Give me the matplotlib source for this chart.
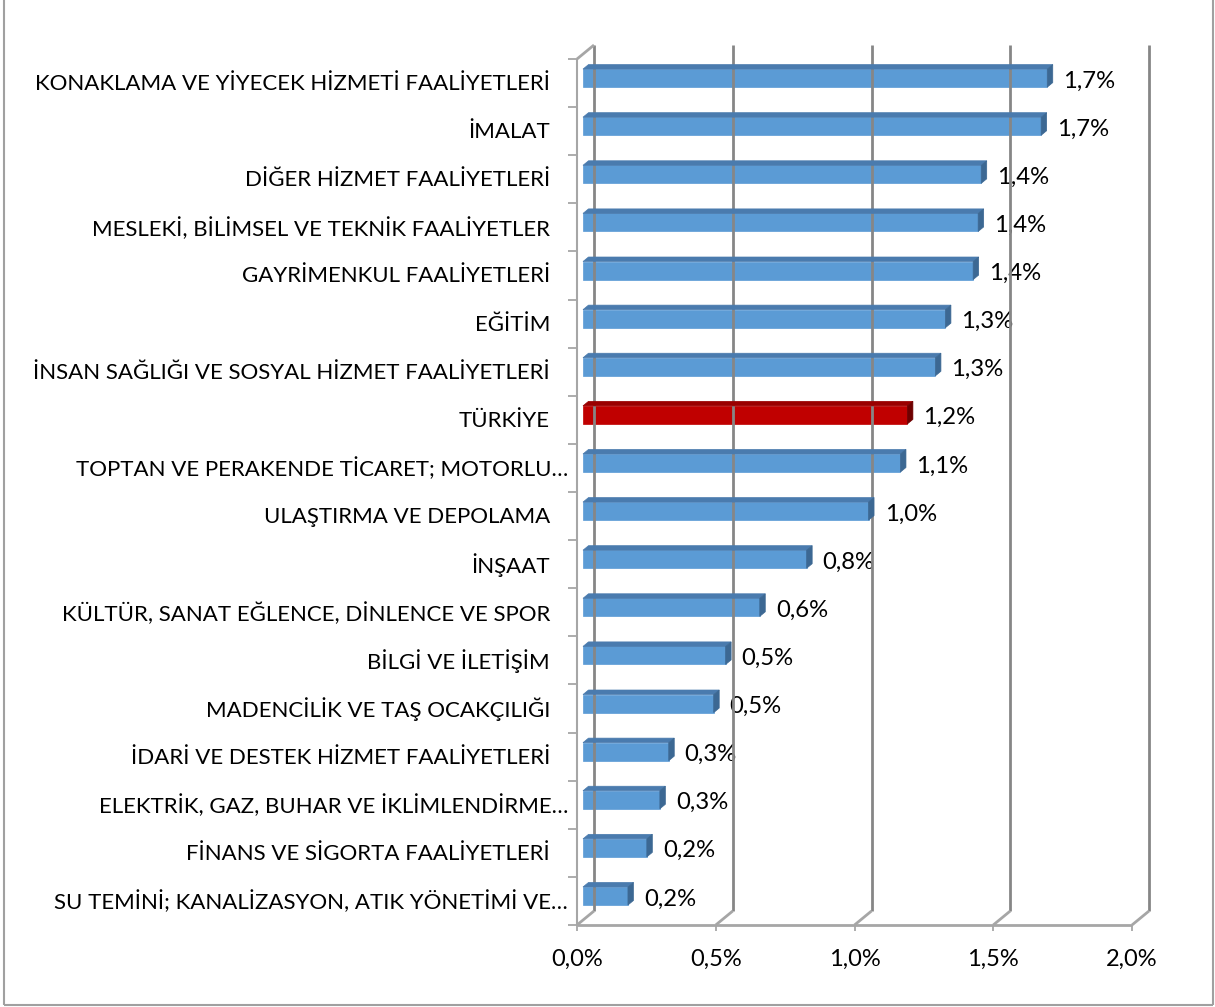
import matplotlib
matplotlib.use('Agg')
import matplotlib.pyplot as plt
from matplotlib.patches import Polygon
from matplotlib.lines import Line2D
from matplotlib.transforms import offset_copy, IdentityTransform

categories = [
    "KONAKLAMA VE YİYECEK HİZMETİ FAALİYETLERİ",
    "İMALAT",
    "DİĞER HİZMET FAALİYETLERİ",
    "MESLEKİ, BİLİMSEL VE TEKNİK FAALİYETLER",
    "GAYRİMENKUL FAALİYETLERİ",
    "EĞİTİM",
    "İNSAN SAĞLIĞI VE SOSYAL HİZMET FAALİYETLERİ",
    "TÜRKİYE",
    "TOPTAN VE PERAKENDE TİCARET; MOTORLU…",
    "ULAŞTIRMA VE DEPOLAMA",
    "İNŞAAT",
    "KÜLTÜR, SANAT EĞLENCE, DİNLENCE VE SPOR",
    "BİLGİ VE İLETİŞİM",
    "MADENCİLİK VE TAŞ OCAKÇILIĞI",
    "İDARİ VE DESTEK HİZMET FAALİYETLERİ",
    "ELEKTRİK, GAZ, BUHAR VE İKLİMLENDİRME…",
    "FİNANS VE SİGORTA FAALİYETLERİ",
    "SU TEMİNİ; KANALİZASYON, ATIK YÖNETİMİ VE…",
]
values = [1.673, 1.651, 1.435, 1.424, 1.406, 1.306, 1.270, 1.169, 1.144,
          1.029, 0.806, 0.637, 0.514, 0.471, 0.309, 0.277, 0.230, 0.162]
highlight = "TÜRKİYE"
xticks = [0.0, 0.5, 1.0, 1.5, 2.0]
xtick_labels = ["0,0%", "0,5%", "1,0%", "1,5%", "2,0%"]

plt.rcParams['font.family'] = ['Lato', 'DejaVu Sans']

W, H = 1215, 1007
fig = plt.figure(figsize=(W / 100, H / 100), dpi=100)
ax = fig.add_axes([577 / W, (H - 925) / H, (1132 - 577) / W, (925 - 59) / H])
n = len(categories)
ypos = list(range(n))

DX, DY = 17.0, 14.0
d0, d1 = 6.0 / 17.0, 11.5 / 17.0
bh = 0.375

blue, blue_top, blue_side = "#5B9BD5", "#4A7BAE", "#3C6893"
red, red_top, red_side = "#C00000", "#9A0000", "#6E0000"
face = [red if c == highlight else blue for c in categories]
tops = [red_top if c == highlight else blue_top for c in categories]
sides = [red_side if c == highlight else blue_side for c in categories]

bars = ax.barh(ypos, values, height=bh, left=0, color=face,
               edgecolor=face, linewidth=0.5,
               transform=offset_copy(ax.transData, fig, x=DX * d0, y=DY * d0, units='dots'),
               zorder=3, clip_on=False)
ax.set_xlim(0, 2.0)
ax.set_ylim(n - 0.5, -0.5)
ax.axis('off')

ybot, ytop = n - 0.5, -0.5


def P(x, y, d):
    X, Y = ax.transData.transform((x, y))
    return (X + d * DX, Y + d * DY)


def line(pts, color, lw, z=1):
    xs = [p[0] for p in pts]
    ys = [p[1] for p in pts]
    fig.add_artist(Line2D(xs, ys, transform=IdentityTransform(), color=color,
                          lw=lw, zorder=z, solid_capstyle='butt'))


grid_c = "#868686"
axis_c = "#A6A6A6"
# back wall gridlines and floor diagonals
for t in xticks:
    line([P(t, ybot, 1), P(t, ytop, 1)], grid_c, 2.0)
    line([P(t, ybot, 0), P(t, ybot, 1)], axis_c, 2.0)
    line([P(t, ybot, 0), (P(t, ybot, 0)[0], P(t, ybot, 0)[1] - 6)], axis_c, 1.3)
# floor front line
line([P(0, ybot, 0), P(2.0, ybot, 0)], axis_c, 2.0)
# left wall
line([P(0, ybot, 0), P(0, ytop, 0)], axis_c, 1.5)
line([P(0, ytop, 0), P(0, ytop, 1)], axis_c, 2.0)
for k in range(n + 1):
    p = P(0, k - 0.5, 0)
    line([(p[0] - 9, p[1]), p], axis_c, 1.3)

# 3D faces of bars
for i, v in enumerate(values):
    yt = i - bh / 2
    yb = i + bh / 2
    top = Polygon([P(0, yt, d0), P(v, yt, d0), P(v, yt, d1), P(0, yt, d1)],
                  closed=True, transform=IdentityTransform(), facecolor=tops[i],
                  edgecolor=tops[i], lw=0.5, zorder=4)
    side = Polygon([P(v, yt, d0), P(v, yb, d0), P(v, yb, d1), P(v, yt, d1)],
                   closed=True, transform=IdentityTransform(), facecolor=sides[i],
                   edgecolor=sides[i], lw=0.5, zorder=4)
    fig.add_artist(top)
    fig.add_artist(side)
    lbl = f"{v:.1f}".replace('.', ',') + '%'
    ax.annotate(lbl, xy=(v, i), xytext=(22, 2), textcoords='offset pixels',
                ha='left', va='center', fontsize=17.2, color='black',
                annotation_clip=False, zorder=5)

# category labels
for i, c in enumerate(categories):
    off = -9 if c.endswith('…') else -27
    ax.annotate(c, xy=(0, i), xytext=(off, -1), textcoords='offset pixels',
                ha='right', va='center', fontsize=16, color='black',
                annotation_clip=False)

# x tick labels
for t, l in zip(xticks, xtick_labels):
    ax.annotate(l, xy=(t, ybot), xytext=(0, -34), textcoords='offset pixels',
                ha='center', va='center', fontsize=17, color='black',
                annotation_clip=False)

# chart border
bc = "#A0A0A0"
line([(4, 2), (4, H)], bc, 1.5, 0)
line([(1213, 2), (1213, H)], bc, 1.5, 0)
line([(4, 2), (1213, 2)], bc, 1.5, 0)

fig.savefig("out.png", dpi=100)
